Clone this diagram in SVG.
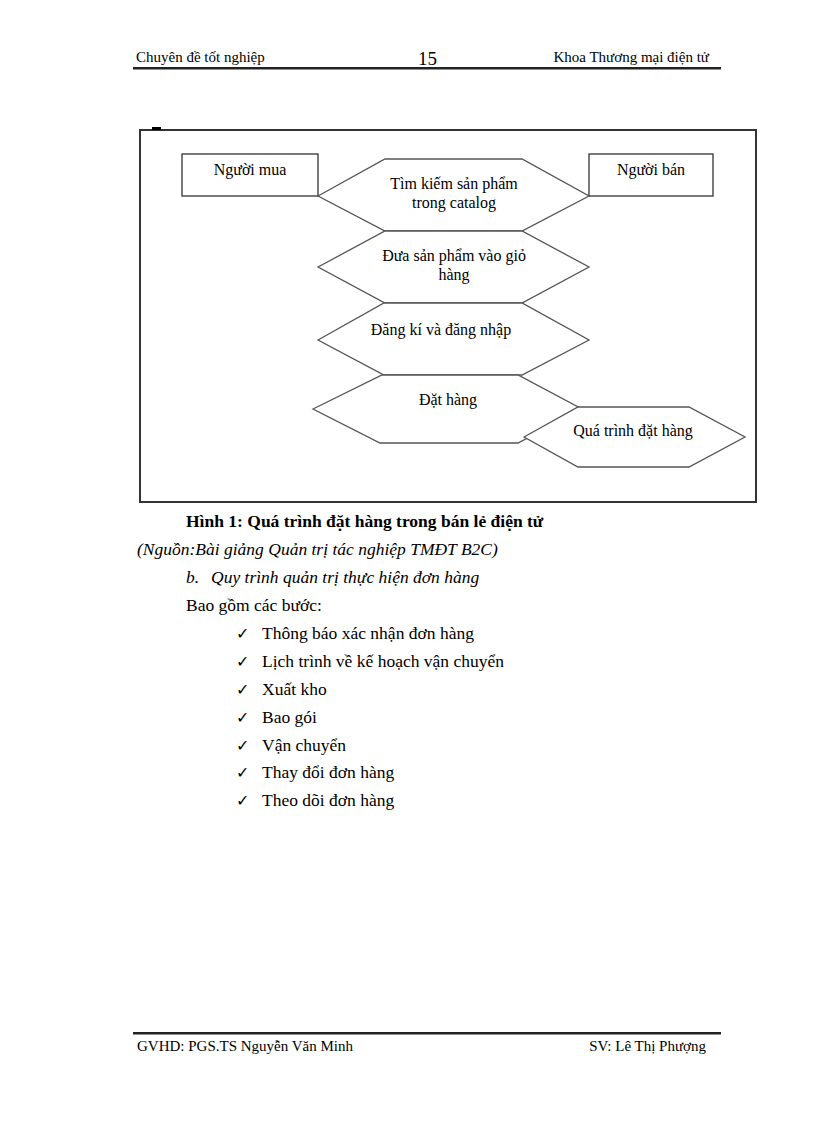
<svg xmlns="http://www.w3.org/2000/svg" width="816" height="1123" viewBox="0 0 816 1123">
<style>
text{font-family:"Liberation Serif","Times New Roman",serif;fill:#000}
.hdr{font-size:15px}
.node{font-size:16px;text-anchor:middle}
.hex{fill:#fff;stroke:#555;stroke-width:1.3}
.box{fill:#fff;stroke:#333;stroke-width:1.3}
.body{font-size:17.5px}
.chk{font-family:"DejaVu Sans",sans-serif;font-size:16px}
</style>
<rect width="816" height="1123" fill="#fff"/>
<!-- header -->
<text class="hdr" x="136" y="62">Chuyên đề tốt nghiệp</text>
<text x="418" y="65" style="font-size:19px">15</text>
<text class="hdr" x="709" y="62" text-anchor="end">Khoa Thương mại điện tử</text>
<rect x="133" y="67" width="588" height="2.5" fill="#222"/>
<!-- frame -->
<rect x="140" y="130" width="616" height="372" fill="none" stroke="#333" stroke-width="2"/>
<rect x="152" y="127" width="9" height="3" fill="#000"/>
<g id="nodes">
<g id="n-buyer"><rect class="box" x="182" y="154" width="136" height="42"/><text class="node" x="250" y="175">Người mua</text></g>
<g id="n-seller"><rect class="box" x="589" y="154" width="124" height="42"/><text class="node" x="651" y="175">Người bán</text></g>
<g id="n-search"><polygon class="hex" points="318,196 385,159 522,159 589,196 522,231 385,231"/><text class="node" x="454" y="189">Tìm kiếm sản phẩm</text><text class="node" x="454" y="208">trong catalog</text></g>
<g id="n-cart"><polygon class="hex" points="318,267 385,231 522,231 589,267 522,303 385,303"/><text class="node" x="454" y="261">Đưa sản phẩm vào giỏ</text><text class="node" x="454" y="280">hàng</text></g>
<g id="n-login"><polygon class="hex" points="318,340 384,303 522,303 589,340 522,375 384,375"/><text class="node" x="441" y="335">Đăng kí và đăng nhập</text></g>
<g id="n-order"><polygon class="hex" points="313,409 382,375 518,375 582,409 518,443 380,443"/><text class="node" x="448" y="405">Đặt hàng</text></g>
<g id="n-process"><polygon class="hex" points="524,437 578,407 689,407 745,437 689,467 578,467"/><text class="node" x="633" y="436">Quá trình đặt hàng</text></g>
</g>
<g id="connectors"></g>
<!-- caption & body -->
<text class="body" x="186" y="527" style="font-weight:bold">Hình 1: Quá trình đặt hàng trong bán lẻ điện tử</text>
<text class="body" x="137" y="555" style="font-style:italic">(Nguồn:Bài giảng Quản trị tác nghiệp TMĐT B2C)</text>
<text class="body" x="186" y="583" style="font-style:italic">b.<tspan x="211">Quy trình quản trị thực hiện đơn hàng</tspan></text>
<text class="body" x="186" y="611">Bao gồm các bước:</text>
<g class="chk">
<text x="236" y="639">✓</text>
<text x="236" y="667">✓</text>
<text x="236" y="695">✓</text>
<text x="236" y="723">✓</text>
<text x="236" y="751">✓</text>
<text x="236" y="778">✓</text>
<text x="236" y="806">✓</text>
</g>
<text class="body" x="262" y="639">Thông báo xác nhận đơn hàng</text>
<text class="body" x="262" y="667">Lịch trình về kế hoạch vận chuyển</text>
<text class="body" x="262" y="695">Xuất kho</text>
<text class="body" x="262" y="723">Bao gói</text>
<text class="body" x="262" y="751">Vận chuyển</text>
<text class="body" x="262" y="778">Thay đổi đơn hàng</text>
<text class="body" x="262" y="806">Theo dõi đơn hàng</text>
<!-- footer -->
<rect x="133" y="1032" width="588" height="2.5" fill="#222"/>
<text class="hdr" x="137" y="1051">GVHD: PGS.TS Nguyễn Văn Minh</text>
<text class="hdr" x="706" y="1051" text-anchor="end">SV: Lê Thị Phượng</text>
</svg>
